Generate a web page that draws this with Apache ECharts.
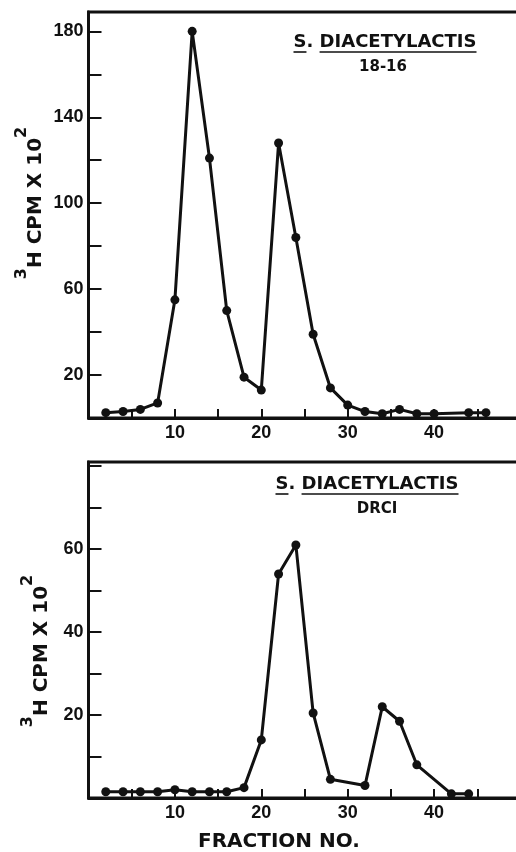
<!DOCTYPE html>
<html>
<head>
<meta charset="utf-8">
<script src="https://cdn.jsdelivr.net/npm/echarts@6/dist/echarts.min.js"></script>
<style>
html, body { margin: 0; padding: 0; background: #fff; }
#main { width: 516px; height: 852px; }
</style>
</head>
<body>
<div id="main"></div>
<script>
// fraction numbers and counts (3H CPM x 10^2)
var topFraction = [2, 4, 6, 8, 10, 12, 14, 16, 18, 20, 22, 24, 26, 28, 30, 32, 34, 36, 38, 40, 44, 46];
var topCpm = [2.5, 3, 4, 7, 55, 180, 121, 50, 19, 13, 128, 84, 39, 14, 6, 3, 2, 4, 2, 2, 2.5, 2.5];
var bottomFraction = [2, 4, 6, 8, 10, 12, 14, 16, 18, 20, 22, 24, 26, 28, 32, 34, 36, 38, 42, 44];
var bottomCpm = [1.5, 1.5, 1.5, 1.5, 2, 1.5, 1.5, 1.5, 2.5, 14, 54, 61, 20.5, 4.5, 3, 22, 18.5, 8, 1, 1];

var xTickLabels = [10, 20, 30, 40];
var topYLabels = [20, 60, 100, 140, 180];
var bottomYLabels = [20, 40, 60];

var topTitle = ['S', '. ', 'DIACETYLACTIS', '18-16'];
var bottomTitle = ['S', '. ', 'DIACETYLACTIS', 'DRCI'];
var yName = '{s|3}{m|H CPM X 10}{s|2}';
var xName = 'FRACTION NO.';

var FONT = '"Liberation Sans", Arial, sans-serif';
var LETTER = '"DejaVu Sans", sans-serif';

function zip(xs, ys) {
	var out = [];
	for (var i = 0; i < xs.length; i++) out.push([xs[i], ys[i]]);
	return out;
}

var ctx = document.createElement('canvas').getContext('2d');
ctx.font = 'bold 18px "DejaVu Sans"';
function w(s) { return ctx.measureText(s).width; }

// title block: underlined genus and species, strain below
function titleGraphics(t, cx, cy, subX, subY) {
	var total = w(t[0] + t[1] + t[2]);
	var left = cx - total / 2;
	var uy = cy + 10;
	return [
		{ type: 'text', x: cx, y: cy, style: { text: t[0] + t[1] + t[2], font: 'bold 18px ' + LETTER, fill: '#111', align: 'center', verticalAlign: 'middle' } },
		{ type: 'line', shape: { x1: left, y1: uy, x2: left + w(t[0]), y2: uy }, style: { stroke: '#111', lineWidth: 1.6 } },
		{ type: 'line', shape: { x1: left + w(t[0] + t[1]), y1: uy, x2: left + total, y2: uy }, style: { stroke: '#111', lineWidth: 1.6 } },
		{ type: 'text', x: subX, y: subY, style: { text: t[3], font: 'bold 15px ' + LETTER, fill: '#111', align: 'center', verticalAlign: 'middle' } }
	];
}

function yNameGraphic(cx, cy) {
	return {
		type: 'text', x: cx, y: cy, rotation: Math.PI / 2,
		style: {
			text: yName, align: 'center', verticalAlign: 'middle', fill: '#111',
			rich: {
				m: { fontSize: 20, fontWeight: 'bold', fontFamily: LETTER, lineHeight: 44, fill: '#111' },
				s: { fontSize: 16, fontWeight: 'bold', fontFamily: LETTER, lineHeight: 14, verticalAlign: 'top', fill: '#111' }
			}
		}
	};
}

function xAxisOpt(gridIndex) {
	return {
		type: 'value', gridIndex: gridIndex, min: 0, max: 50, interval: 5,
		axisLine: { lineStyle: { color: '#111', width: 2.8 } },
		axisTick: { inside: true, length: 9, lineStyle: { color: '#111', width: 2 } },
		axisLabel: {
			margin: 6, color: '#111', fontSize: 18, fontWeight: 'bold', fontFamily: FONT,
			formatter: function(v) { return xTickLabels.indexOf(v) >= 0 ? String(v) : ''; }
		},
		splitLine: { show: false }
	};
}

function yAxisOpt(gridIndex, max, interval, labels) {
	return {
		type: 'value', gridIndex: gridIndex, min: 0, max: max, interval: interval,
		axisLine: { lineStyle: { color: '#111', width: 2.8 } },
		axisTick: { inside: true, length: 13, lineStyle: { color: '#111', width: 2 } },
		axisLabel: {
			margin: 5, color: '#111', fontSize: 18, fontWeight: 'bold', fontFamily: FONT,
			formatter: function(v) { return labels.indexOf(v) >= 0 ? String(v) : ''; }
		},
		splitLine: { show: false }
	};
}

function seriesOpt(idx, data) {
	return {
		type: 'line', xAxisIndex: idx, yAxisIndex: idx, data: data,
		symbol: 'circle', symbolSize: 9,
		itemStyle: { color: '#111' },
		lineStyle: { color: '#111', width: 3 },
		animation: false
	};
}

var myChart = echarts.init(document.getElementById('main'));
var option = {
	backgroundColor: '#fff',
	animation: false,
	grid: [
		{ left: 88.5, top: 12, width: 432, height: 406, outerBoundsMode: 'none', containLabel: false, show: true, borderColor: '#111', borderWidth: 2.8 },
		{ left: 88.5, top: 462, width: 432, height: 336, outerBoundsMode: 'none', containLabel: false, show: true, borderColor: '#111', borderWidth: 2.8 }
	],
	xAxis: [xAxisOpt(0), xAxisOpt(1)],
	yAxis: [yAxisOpt(0, 189, 20, topYLabels), yAxisOpt(1, 81, 10, bottomYLabels)],
	series: [seriesOpt(0, zip(topFraction, topCpm)), seriesOpt(1, zip(bottomFraction, bottomCpm))],
	graphic: [].concat(
		titleGraphics(topTitle, 385, 42, 383, 67),
		titleGraphics(bottomTitle, 367, 484, 377, 509),
		[yNameGraphic(36, 203), yNameGraphic(42, 651)],
		[{ type: 'text', x: 279, y: 842, style: { text: xName, font: 'bold 20px ' + LETTER, fill: '#111', align: 'center', verticalAlign: 'middle' } }]
	)
};
myChart.setOption(option, true);
</script>
</body>
</html>
